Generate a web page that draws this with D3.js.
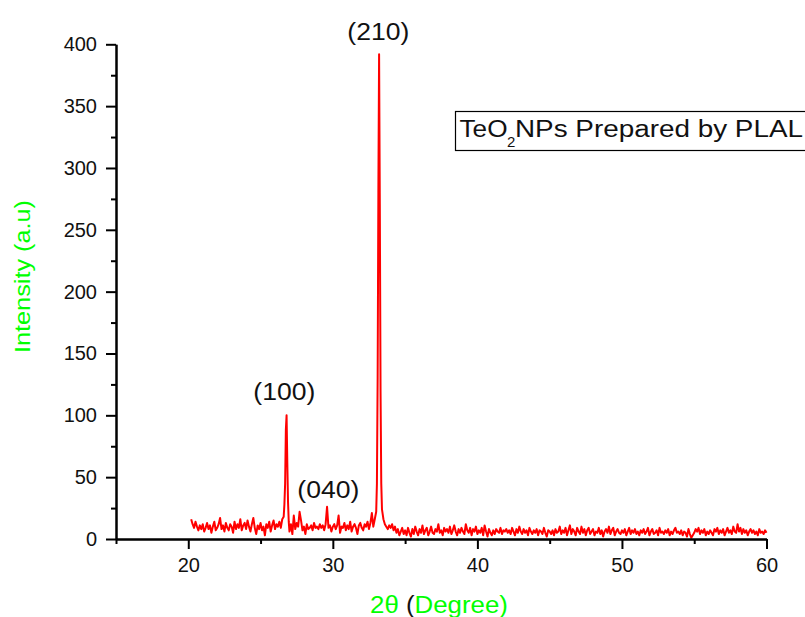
<!DOCTYPE html>
<html>
<head>
<meta charset="utf-8">
<script src="https://cdn.jsdelivr.net/npm/d3@7"></script>
<style>
  html, body { margin: 0; padding: 0; background: #fff; }
  svg { display: block; font-family: "Liberation Sans", Arial, sans-serif; }
</style>
</head>
<body>
<svg id="chart" width="805" height="617"></svg>
<script>
// ---- Data ----
const gridStart = 20.2;      // first 2θ sample
const gridStep = 0.1;        // sampling step of the scan
const intensity = [
  // 20.2 - 20.9
  16, 12, 9, 14, 10, 7, 11, 8,
  // 21
  12, 6, 9, 13, 8, 11, 5, 10, 14, 7,
  // 22
  9, 12, 17, 8, 11, 6, 13, 9, 7, 12,
  // 23
  10, 5, 14, 8, 12, 9, 16, 7, 11, 13,
  // 24
  8, 15, 10, 6, 12, 17, 9, 4, 11, 8,
  // 25
  13, 7, 10, 3, 12, 9, 14, 6, 11, 15,
  // 26
  8, 12, 10, 14, 9, 16, 18, 45, 100, 30,
  // 27
  6, 12, 4, 19, 8, 13, 10, 22, 15, 7,
  // 28
  10, 4, 12, 8, 9, 11, 7, 13, 9, 10,
  // 29
  8, 12, 9, 11, 7, 12, 26, 9, 11, 6,
  // 30
  10, 12, 8, 11, 19, 5, 10, 9, 13, 7,
  // 31
  11, 8, 14, 6, 10, 12, 9, 4, 11, 13,
  // 32
  9, 7, 12, 10, 14, 8, 13, 21, 10, 16,
  // 33
  22, 130, 392, 120, 24, 16, 12, 10, 8, 11,
  // 34
  9, 12, 7, 10, 5, 8, 3, 6, 9, 4,
  // 35
  7, 3, 9, 5, 2, 8, 4, 10, 6, 3,
  // 36
  8, 5, 11, 4, 7, 9, 3, 6, 10, 5,
  // 37
  4, 8, 6, 12, 5, 7, 3, 9, 6, 8,
  // 38
  5, 10, 4, 7, 11, 6, 3, 8, 5, 9,
  // 39
  6, 4, 12, 7, 5, 9, 3, 8, 6, 10,
  // 40
  4, 7, 5, 9, 3, 11, 6, 2, 8, 5,
  // 41
  3, 7, 4, 8, 6, 5, 9, 4, 7, 6,
  // 42
  8, 5, 7, 4, 9, 6, 3, 8, 5, 10,
  // 43
  6, 4, 8, 5, 7, 3, 9, 6, 4, 7,
  // 44
  5, 8, 3, 7, 6, 4, 9, 5, 2, 7,
  // 45
  6, 4, 7, 3, 8, 5, 6, 10, 4, 7,
  // 46
  5, 9, 3, 7, 11, 4, 8, 6, 3, 9,
  // 47
  6, 4, 10, 5, 8, 3, 7, 9, 4, 6,
  // 48
  8, 3, 6, 5, 9, 4, 7, 2, 6, 8,
  // 49
  5, 10, 4, 7, 9, 3, 6, 8, 5, 4,
  // 50
  7, 5, 8, 3, 6, 9, 4, 7, 5, 8,
  // 51
  4, 6, 3, 7, 5, 8, 4, 6, 9, 3,
  // 52
  6, 8, 4, 5, 7, 3, 9, 5, 6, 4,
  // 53
  7, 5, 8, 3, 6, 4, 7, 9, 5, 6,
  // 54
  4, 7, 3, 6, 5, 2, 8, 4, 1, 3,
  // 55
  5, 8, 6, 9, 4, 7, 5, 8, 3, 6,
  // 56
  4, 7, 5, 3, 8, 6, 9, 4, 7, 5,
  // 57
  8, 3, 6, 9, 5, 7, 4, 10, 6, 5,
  // 58
  12, 6, 9, 4, 8, 5, 7, 3, 6, 8,
  // 59
  5, 7, 4, 6, 3, 8, 5, 6, 4, 7,
  // 60
  5
];
// extra samples on the flanks of the two sharp peaks
const peakTwoTheta = [26.65, 26.75, 26.85, 26.95, 33.05, 33.15, 33.25, 33.35];
const peakIntensity = [28, 88, 62, 14, 45, 280, 270, 45];

const xTicksMajor = [20, 30, 40, 50, 60];
const xTicksMinor = [15, 25, 35, 45, 55];
const yTicksMajor = [0, 50, 100, 150, 200, 250, 300, 350, 400];
const yTicksMinor = [25, 75, 125, 175, 225, 275, 325, 375];

const annotations = [
  { label: "(210)", x: 33.2, y: 392 },
  { label: "(100)", x: 26.8, y: 100 },
  { label: "(040)", x: 29.6, y: 26 }
];

// ---- Build series ----
const series = intensity.map((v, i) => ({ t: +(gridStart + i * gridStep).toFixed(2), v }))
  .concat(peakTwoTheta.map((t, i) => ({ t, v: peakIntensity[i] })))
  .sort((a, b) => a.t - b.t);

// ---- Layout ----
const svg = d3.select("#chart");
const x = d3.scaleLinear().domain([15, 60]).range([116, 766.5]);
const y = d3.scaleLinear().domain([0, 400]).range([539, 44.3]);

// ---- Line ----
svg.append("path")
  .datum(series)
  .attr("fill", "none")
  .attr("stroke", "#ff0000")
  .attr("stroke-width", 2)
  .attr("stroke-linejoin", "round")
  .attr("d", d3.line().x(d => x(d.t)).y(d => y(d.v)));

// ---- Axes ----
function styleAxis(g) {
  g.select(".domain").attr("stroke", "#000").attr("stroke-width", 2);
  g.selectAll(".tick line").attr("stroke", "#000").attr("stroke-width", 2);
  g.selectAll(".tick text").attr("fill", "#111").attr("font-size", 20)
    .attr("font-family", "'Liberation Sans', Arial, sans-serif");
}

const xAxis = svg.append("g").attr("transform", `translate(0,${y(0)})`)
  .call(d3.axisBottom(x).tickValues(xTicksMajor).tickSize(10).tickPadding(9).tickSizeOuter(0).tickFormat(d3.format("d")));
styleAxis(xAxis);
const xAxisMinor = svg.append("g").attr("transform", `translate(0,${y(0)})`)
  .call(d3.axisBottom(x).tickValues(xTicksMinor).tickSize(5).tickSizeOuter(0).tickFormat(""));
styleAxis(xAxisMinor);

const yAxis = svg.append("g").attr("transform", `translate(${x(15)},0)`)
  .call(d3.axisLeft(y).tickValues(yTicksMajor).tickSize(10).tickPadding(9).tickSizeOuter(0).tickFormat(d3.format("d")));
styleAxis(yAxis);
const yAxisMinor = svg.append("g").attr("transform", `translate(${x(15)},0)`)
  .call(d3.axisLeft(y).tickValues(yTicksMinor).tickSize(5).tickSizeOuter(0).tickFormat(""));
styleAxis(yAxisMinor);

// ---- Axis titles ----
svg.append("text")
  .attr("transform", "translate(29.5,276.5) rotate(-90)")
  .attr("text-anchor", "middle")
  .attr("font-size", 22)
  .attr("fill", "#00ff00")
  .attr("textLength", 153)
  .attr("lengthAdjust", "spacingAndGlyphs")
  .text("Intensity (a.u)");

const xt = svg.append("text")
  .attr("x", 439).attr("y", 613)
  .attr("text-anchor", "middle")
  .attr("font-size", 23)
  .attr("textLength", 138)
  .attr("lengthAdjust", "spacingAndGlyphs");
xt.append("tspan").attr("fill", "#00ff00").text("2θ ");
xt.append("tspan").attr("fill", "#111").text("(");
xt.append("tspan").attr("fill", "#00ff00").text("Degree)");

// ---- Peak annotations ----
const annY = { "(210)": 39.5, "(100)": 400, "(040)": 498 };
const annX = { "(210)": 378.3, "(100)": 284.3, "(040)": 328.3 };
svg.selectAll("text.ann").data(annotations).enter().append("text")
  .attr("class", "ann")
  .attr("x", d => annX[d.label])
  .attr("y", d => annY[d.label])
  .attr("text-anchor", "middle")
  .attr("font-size", 23)
  .attr("fill", "#111")
  .attr("textLength", 62)
  .attr("lengthAdjust", "spacingAndGlyphs")
  .text(d => d.label);

// ---- Legend box ----
svg.append("rect")
  .attr("x", 455.5).attr("y", 111.5).attr("width", 360).attr("height", 39)
  .attr("fill", "#fff").attr("stroke", "#000").attr("stroke-width", 1.2);
svg.append("text").attr("x", 459.5).attr("y", 136.5).attr("font-size", 23).attr("fill", "#111")
  .attr("textLength", 48).attr("lengthAdjust", "spacingAndGlyphs").text("TeO");
svg.append("text").attr("x", 507).attr("y", 146.5).attr("font-size", 15).attr("fill", "#111")
  .text("2");
svg.append("text").attr("x", 515).attr("y", 136.5).attr("font-size", 23).attr("fill", "#111")
  .attr("textLength", 288).attr("lengthAdjust", "spacingAndGlyphs").text("NPs Prepared by PLAL");
</script>
</body>
</html>
